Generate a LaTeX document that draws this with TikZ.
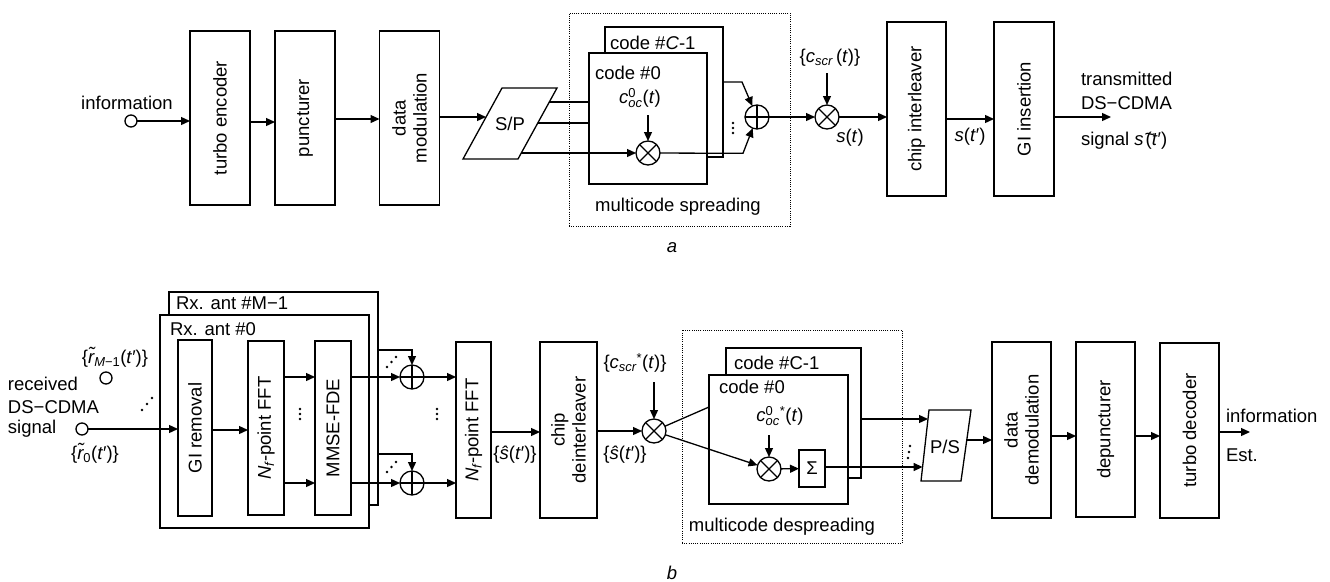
\documentclass[tikz,border=0pt]{standalone}
\usepackage{amsmath}
\usepackage{fontspec}
\setmainfont{Liberation Sans}
\usetikzlibrary{arrows.meta,calc}
\newcommand{\ti}[1]{\text{\itshape #1}}
\newcommand{\tu}[1]{\text{\upshape #1}}
\begin{document}
\begin{tikzpicture}[x=1pt,y=-1pt,line width=1.3pt,
  every node/.style={font=\fontsize{18.5}{21}\selectfont, inner sep=0pt, outer sep=0pt},
  blk/.style={draw, fill=white, line width=1.3pt},
  tbox/.style={minimum width=60pt, minimum height=174pt},
  rot/.style={rotate=90, align=center},
  arr/.style={-{Triangle[length=9pt,width=8pt]}},
  port/.style={circle, draw, fill=white, minimum size=12pt},
  dotbox/.style={draw, line width=1pt, dash pattern=on 1pt off 1.2pt},
  mul/.style={circle, draw, fill=white, minimum size=24pt,
    path picture={\draw[line width=1.1pt] (path picture bounding box.north west) -- (path picture bounding box.south east)
      (path picture bounding box.north east) -- (path picture bounding box.south west);}},
  add/.style={circle, draw, fill=white, minimum size=24pt,
    path picture={\draw[line width=1.1pt] (path picture bounding box.north) -- (path picture bounding box.south)
      (path picture bounding box.west) -- (path picture bounding box.east);}}
]
\useasboundingbox (0,0) rectangle (1330,581);

% ================= (a) transmitter =================
\node[port] (info) at (131,121) {};
\node (infoL) at (127,103) {information};
\node[blk, tbox, label={[rot]center:turbo encoder}] (te) at (220,118) {};
\node[blk, tbox, label={[rot]center:puncturer}] (pu) at (305,118) {};
\node[blk, tbox, label={[rot]center:{data\\modulation}}] (dm) at (409.5,118) {};
\draw[arr] (info) -- (info -| te.west);
\draw[arr] ([yshift=-4pt]te.east) -- ([yshift=-4pt]pu.west);
\draw[arr] ([yshift=-1pt]pu.east) -- ([yshift=-1pt]dm.west);

% S/P
\coordinate (spBL) at (463,159);
\coordinate (spTL) at (502,88);
\coordinate (spTR) at (557,88);
\coordinate (spBR) at (518,159);
\draw (spBL) -- (spTL) -- (spTR) -- (spBR) -- cycle;
\node (sp) at (510,124) {S/P};
\coordinate (spIn) at (486,117);
\draw[arr] ([yshift=1pt]dm.east) -- (spIn);

% multicode spreading
\node[dotbox, minimum width=221pt, minimum height=213pt] (spr) at (679.5,119.5) {};
\node (sprL) at (678,207) {multicode spreading};
\node[blk, minimum width=118pt, minimum height=130pt] (cC) at (664,92) {};
\node[blk, minimum width=118pt, minimum height=131pt] (c0) at (648,118.5) {};
\node[anchor=west] (cCl) at (610,43) {code \#\textit{C}-1};
\node[anchor=west] (c0l) at (595,73) {code \#0};
\node (coc) at (640,98) {$\ti{c}^{\tu{0}}_{\ti{oc}}$(\textit{t})};
\node[mul] (m1) at (648,153) {};
\coordinate (m1in) at (648,115);
\draw[arr] (m1in) -- (m1);
\coordinate (sp1) at (549,102);
\coordinate (sp2) at (538,123);
\coordinate (sp3) at (521,153);
\draw (sp1) -- (sp1 -| c0.west);
\draw (sp2) -- (sp2 -| c0.west);
\draw[arr] (sp3) -- (m1);
\node[add] (a1) at (757,117) {};
\coordinate (b1) at (743,153.3);
\coordinate (b2) at (742,82);
\draw[arr] (m1) -- (b1) -- (a1);
\draw[arr] (b2 -| cC.east) -- (b2) -- (a1);
\fill (733,123) circle (1.3pt) (733,128) circle (1.3pt) (733,133) circle (1.3pt);

% scrambling
\node[mul] (m2) at (827,117) {};
\draw[arr] (a1) -- (m2);
\node (cscr) at (830,58) {\{$\ti{c}_{\ti{scr}}$\,(\textit{t})\}};
\coordinate (m2in) at (827,73);
\draw[arr] (m2in) -- (m2);
\node (st) at (850,138) {\textit{s}(\textit{t})};
\node[blk, tbox, minimum width=59pt, label={[rot]center:chip interleaver}] (ci) at (916.5,109) {};
\draw[arr] (m2) -- (m2 -| ci.west);
\node[blk, tbox, label={[rot]center:GI insertion}] (gi) at (1024,109) {};
\draw[arr] ([yshift=-10pt]ci.east) -- ([yshift=-10pt]gi.west);
\node (stp) at (970,137) {\textit{s}(\textit{t}′)};
\coordinate (txout) at (1111,117);
\draw[arr] ([yshift=-8pt]gi.east) -- (txout);
\node[anchor=west] (tx1) at (1081,79) {transmitted};
\node[anchor=west] (tx2) at (1081,103) {DS−CDMA};
\node[anchor=west] (tx3) at (1081,141) {signal \textit{s}\kern1pt\rlap{\raisebox{0.3em}{\textasciitilde}}\kern1pt(\textit{t}′)};
\node (capa) at (672,248) {\textit{a}};

% ================= (b) receiver =================
\node[blk, minimum width=209pt, minimum height=213pt] (rxM) at (273.5,398.5) {};
\node[blk, minimum width=209pt, minimum height=213pt] (rx0) at (264.5,421.5) {};
\node[anchor=west] (rxMl) at (176,303) {Rx. ant \#M−1};
\node[anchor=west] (rx0l) at (170,329) {Rx. ant \#0};
\node[blk, minimum width=34pt, minimum height=176pt, label={[rot]center:GI removal}] (gir) at (195,428) {};
\node[blk, minimum width=36pt, minimum height=174pt, label={[rot]center:{$\ti{N}_{\ti{f}}$-point FFT}}] (fft1) at (266,428) {};
\node[blk, minimum width=36pt, minimum height=174pt, label={[rot]center:MMSE-FDE}] (mmse) at (333,428) {};

\node[port] (in0) at (82,429) {};
\node[port] (inM) at (106,378) {};
\draw[arr] (in0) -- (in0 -| gir.west);
\fill (142,410) circle (1.3pt) (147,404) circle (1.3pt) (152,398) circle (1.3pt);
\node (rML) at (115,357) {\{$\ti{\~{r}}_{\ti{M}\tu{−1}}$(\textit{t}′)\}};
\node[anchor=west] (rec1) at (8,384) {received};
\node[anchor=west] (rec2) at (8,407) {DS−CDMA};
\node[anchor=west] (rec3) at (8,429) {signal};
\node (r0L) at (95,453) {\{$\ti{\~{r}}_{\tu{0}}$(\textit{t}′)\}};

\draw[arr] ([yshift=-2pt]gir.east) -- ([yshift=-2pt]fft1.west);
\draw[arr] ([yshift=51pt]fft1.east) -- ([yshift=51pt]mmse.west);
\draw[arr] ([yshift=-55pt]fft1.east) -- ([yshift=-55pt]mmse.west);
\fill (300,409) circle (1.3pt) (300,414) circle (1.3pt) (300,419) circle (1.3pt);

\node[add] (addT) at (412,377) {};
\node[add] (addB) at (412,483) {};
\draw[arr] ([yshift=51pt]mmse.east) -- (addT);
\draw[arr] ([yshift=-55pt]mmse.east) -- (addB);
\draw[arr] ([yshift=48.5pt]rxM.east) -| (addT);
\draw[arr] ([yshift=-55.5pt]rxM.east) -| (addB);
\fill (387,367) circle (1.3pt) (391.5,362) circle (1.3pt) (396,357) circle (1.3pt);
\fill (387,472) circle (1.3pt) (391.5,467) circle (1.3pt) (396,462) circle (1.3pt);
\fill (437,409) circle (1.3pt) (437,414) circle (1.3pt) (437,419) circle (1.3pt);

\node[blk, minimum width=35pt, minimum height=176pt, label={[rot]center:{$\ti{N}_{\ti{f}}$-point FFT}}] (fft2) at (473.5,430) {};
\draw[arr] (addT) -- (addT -| fft2.west);
\draw[arr] (addB) -- (addB -| fft2.west);
\node[blk, minimum width=57pt, minimum height=176pt, label={[rot]center:{chip\\deinterleaver}}] (cdi) at (568.5,430) {};
\draw[arr] ([yshift=-2pt]fft2.east) -- ([yshift=-2pt]cdi.west);
\node (sh1) at (515,455) {\{\textit{\^{s}}(\textit{t}′)\}};

\node[mul] (m3) at (654,431) {};
\draw[arr] ([yshift=-1pt]cdi.east) -- (m3);
\node (cscr2) at (635,363) {\{$\ti{c}_{\ti{scr}}{}^{\tu{*}}$(\textit{t})\}};
\coordinate (m3in) at (654,382);
\draw[arr] (m3in) -- (m3);
\node (sh2) at (625,455) {\{\textit{\^{s}}(\textit{t}′)\}};

% multicode despreading
\node[dotbox, minimum width=220pt, minimum height=213pt] (dsp) at (792,436.5) {};
\node (dspL) at (782,527) {multicode despreading};
\node[blk, minimum width=135pt, minimum height=130pt] (cC2) at (793.5,413) {};
\node[blk, minimum width=139pt, minimum height=129pt] (c02) at (778.5,439.5) {};
\node[anchor=west] (cC2l) at (734,363) {code \#C-1};
\node[anchor=west] (c02l) at (719,387) {code \#0};
\node (coc2) at (780,416) {$\ti{c}^{\tu{0}}_{\ti{oc}}{}^{\tu{*}}$(\textit{t})};
\node[mul] (m4) at (769,469) {};
\coordinate (m4in) at (769,435);
\draw[arr] (m4in) -- (m4);
\node[blk, minimum width=26pt, minimum height=37pt] (sig) at (812,468.5) {Σ};
\draw[arr] (m4) -- (sig);
\draw (m3) -- ([yshift=32.5pt]c02.west);
\draw[arr] (m3) -- (m4);

% P/S
\coordinate (psTL) at (929,410);
\coordinate (psTR) at (971,410);
\coordinate (psBR) at (961,481);
\coordinate (psBL) at (921,481);
\draw (psBL) -- (psTL) -- (psTR) -- (psBR) -- cycle;
\node (ps) at (945,447) {P/S};
\coordinate (psin1) at (928,419);
\coordinate (psin2) at (922.6,467);
\coordinate (psout) at (967,440);
\draw[arr] ([yshift=-6pt]cC2.east) -- (psin1);
\draw[arr] ([yshift=1.5pt]sig.east) -- (psin2);
\fill (910,446) circle (1.3pt) (909,452) circle (1.3pt) (908,458) circle (1.3pt);

\node[blk, minimum width=59pt, minimum height=176pt, label={[rot]center:{data\\demodulation}}] (ddm) at (1021.5,430) {};
\draw[arr] (psout) -- (psout -| ddm.west);
\node[blk, minimum width=59pt, minimum height=175pt, label={[rot]center:depuncturer}] (dep) at (1105.5,429.5) {};
\node[blk, minimum width=59pt, minimum height=175pt, label={[rot]center:turbo decoder}] (td) at (1189.5,430.5) {};
\draw[arr] ([yshift=-6pt]ddm.east) -- ([yshift=-6.5pt]dep.west);
\draw[arr] ([yshift=-6.5pt]dep.east) -- ([yshift=-5.5pt]td.west);
\coordinate (rxout) at (1250,432);
\draw[arr] ([yshift=-1.5pt]td.east) -- (rxout);
\node[anchor=west] (est1) at (1226,416) {information};
\node[anchor=west] (est2) at (1226,455) {Est.};
\node (capb) at (672,573) {\textit{b}};
\end{tikzpicture}
\end{document}
